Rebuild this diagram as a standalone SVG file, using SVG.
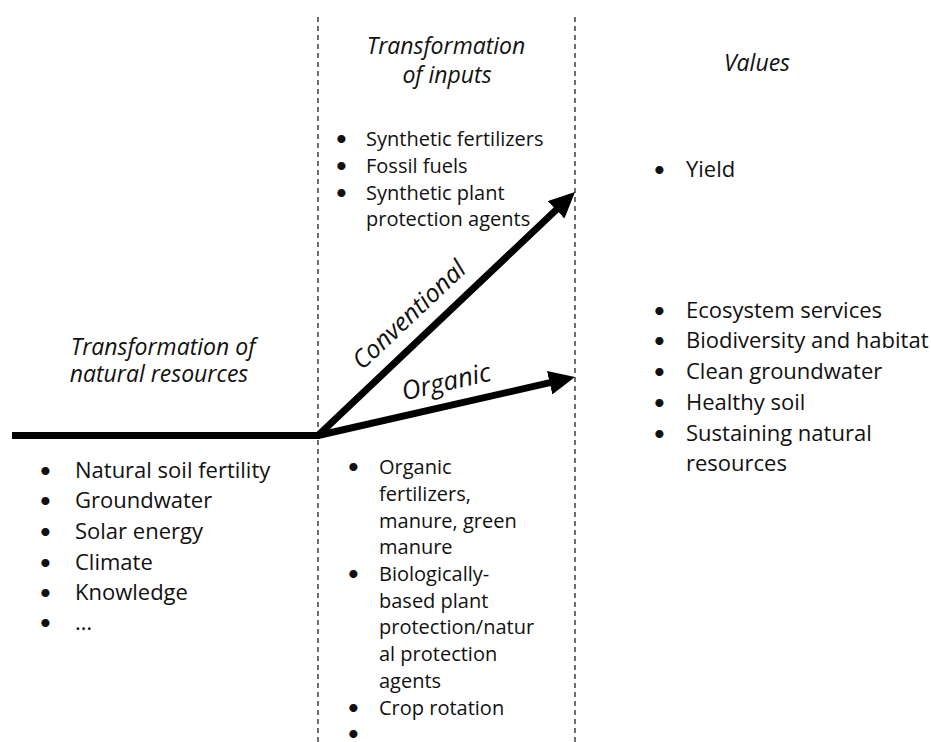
<svg xmlns="http://www.w3.org/2000/svg" width="931" height="742" viewBox="0 0 931 742">
<style>
text{font-family:"Open Sans","Noto Sans","Liberation Sans",sans-serif;font-size:22px;fill:#111}
.h{font-style:italic;font-size:23px;text-anchor:middle}
.lab{font-style:italic;font-size:26px;text-anchor:middle}
.s{font-size:20px}
.bu{font-family:Lato,"Open Sans",sans-serif;font-size:22px}
.div{stroke:#222;stroke-width:1.3;stroke-dasharray:5 4;fill:none}
.conn{stroke:#000;stroke-width:7;fill:none}
</style>
<defs>
<marker id="ah" viewBox="0 0 26 24" markerWidth="26" markerHeight="24" markerUnits="userSpaceOnUse" refX="6" refY="12" orient="auto">
<path d="M0,0 L26,12 L0,24 z" fill="#000"/>
</marker>
</defs>
<rect width="931" height="742" fill="#fff"/>
<g id="dividers">
<line class="div" x1="318" y1="17" x2="318" y2="742"/>
<line class="div" x1="575" y1="17" x2="575" y2="742"/>
</g>
<g id="connectors">
<path class="conn" d="M12,435.5 H318 L560.5,205.7" marker-end="url(#ah)"/>
<path class="conn" d="M318,435.5 L555.5,381.4" marker-end="url(#ah)"/>
<text class="lab" style="font-size:25px" transform="translate(415,321) rotate(-43.4)">Conventional</text>
<text class="lab" transform="translate(448,390.5) rotate(-12.9)">Organic</text>
</g>
<g id="natural-resources">
<text class="h" x="163" y="355">Transformation of</text>
<text class="h" x="159" y="382">natural resources</text>
<text class="bu" x="39" y="478">•</text><text x="75" y="478">Natural soil fertility</text>
<text class="bu" x="39" y="508">•</text><text x="75" y="508">Groundwater</text>
<text class="bu" x="39" y="539">•</text><text x="75" y="539">Solar energy</text>
<text class="bu" x="39" y="570">•</text><text x="75" y="570">Climate</text>
<text class="bu" x="39" y="600">•</text><text x="75" y="600">Knowledge</text>
<text class="bu" x="39" y="630">•</text><text x="75" y="630">…</text>
</g>
<g id="inputs">
<text class="h" x="446" y="54">Transformation</text>
<text class="h" x="447" y="83">of inputs</text>
<text class="bu" x="335" y="146">•</text><text class="s" x="366" y="146">Synthetic fertilizers</text>
<text class="bu" x="335" y="173">•</text><text class="s" x="366" y="173">Fossil fuels</text>
<text class="bu" x="335" y="200">•</text><text class="s" x="366" y="200">Synthetic plant</text>
<text class="s" x="366" y="226">protection agents</text>
</g>
<g id="organic-inputs">
<text class="bu" x="347" y="474">•</text><text class="s" x="379" y="474">Organic</text>
<text class="s" x="379" y="501">fertilizers,</text>
<text class="s" x="379" y="528">manure, green</text>
<text class="s" x="379" y="554">manure</text>
<text class="bu" x="347" y="581">•</text><text class="s" x="379" y="581">Biologically-</text>
<text class="s" x="379" y="608">based plant</text>
<text class="s" x="379" y="634">protection/natur</text>
<text class="s" x="379" y="661">al protection</text>
<text class="s" x="379" y="688">agents</text>
<text class="bu" x="347" y="715">•</text><text class="s" x="379" y="715">Crop rotation</text>
<text class="bu" x="347" y="741">•</text><text class="s" x="379" y="745">…</text>
</g>
<g id="values">
<text class="h" x="757" y="71">Values</text>
<text class="bu" x="653" y="177">•</text><text x="686" y="177">Yield</text>
<text class="bu" x="653" y="318">•</text><text x="686" y="318">Ecosystem services</text>
<text class="bu" x="653" y="348">•</text><text x="686" y="348">Biodiversity and habitat</text>
<text class="bu" x="653" y="379">•</text><text x="686" y="379">Clean groundwater</text>
<text class="bu" x="653" y="410">•</text><text x="686" y="410">Healthy soil</text>
<text class="bu" x="653" y="441">•</text><text x="686" y="441">Sustaining natural</text>
<text x="686" y="471">resources</text>
</g>
</svg>
